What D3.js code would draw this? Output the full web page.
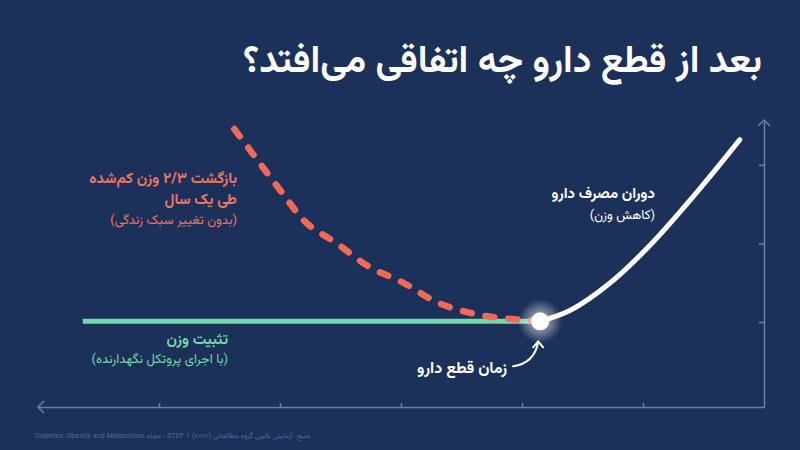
<!DOCTYPE html>
<html lang="fa">
<head>
<meta charset="utf-8">
<script src="https://cdn.jsdelivr.net/npm/d3@7"></script>
<style>
  html, body { margin: 0; padding: 0; background: #1b3159; }
  svg { display: block; }
  text { font-family: Vazirmatn, "DejaVu Sans", sans-serif; }
</style>
</head>
<body>
<svg id="chart" width="800" height="450"></svg>
<script>
// ---- data (time runs right-to-left; t = 0 at the vertical axis) ----
const titleText = "بعد از قطع دارو چه اتفاقی می‌افتد؟";
const sourceText = "\u202Bمنبع: آزمایش بالینی گروه مطالعاتی STEP 1 (۲۰۲۲) ؛ مجله Diabetes, Obesity and Metabolism\u202C";

const xTicks = [1, 2, 3, 4, 5];
const yTicks = [1, 2, 3];

// drug-use period (weight loss), white line
const drugT = [0.20, 0.55, 0.94, 1.27, 1.60, 1.85];
const drugY = [3.32, 2.66, 1.98, 1.50, 1.15, 1.01];

// regain without lifestyle change, red dashed
const regainT = [1.85, 2.16, 2.41, 2.70, 2.98, 3.26, 3.53, 3.78, 4.00, 4.22, 4.39];
const regainY = [1.01, 1.05, 1.11, 1.25, 1.50, 1.70, 2.00, 2.26, 2.68, 3.13, 3.48];

// maintenance protocol, green flat line
const keepT = [1.85, 5.63];
const keepY = [1.01, 1.01];

// discontinuation point
const stopT = 1.85, stopY = 1.01;

const labelRegain = ["بازگشت ۲/۳ وزن کم‌شده", "طی یک سال", "(بدون تغییر سبک زندگی)"];
const labelKeep = ["تثبیت وزن", "(با اجرای پروتکل نگهدارنده)"];
const labelDrug = ["دوران مصرف دارو", "(کاهش وزن)"];
const labelStop = "زمان قطع دارو";

// ---- colours ----
const C = {
  bg: "#1b3159", axis: "#6880aa", white: "#ffffff",
  red: "#f2695a", redText: "#f07466", green: "#74d9a9", greenText: "#74d9a9",
  source: "#52698f"
};

const svg = d3.select("#chart");
svg.append("rect").attr("width", 800).attr("height", 450).attr("fill", C.bg);

const x = d3.scaleLinear().domain([0, 6]).range([764, 38]);
const y = d3.scaleLinear().domain([-0.08, 3.57]).range([407, 120]);

// ---- axes ----
const gx = svg.append("g").attr("transform", `translate(0,${y(-0.08)})`)
  .call(d3.axisBottom(x).tickValues(xTicks).tickSize(-4).tickSizeOuter(0).tickFormat(""));
const gy = svg.append("g").attr("transform", `translate(${x(0)},0)`)
  .call(d3.axisRight(y).tickValues(yTicks).tickSize(-5).tickSizeOuter(0).tickFormat(""));
[gx, gy].forEach(g => {
  g.selectAll("path.domain").attr("stroke", C.axis).attr("stroke-width", 1.5);
  g.selectAll(".tick line").attr("stroke", C.axis).attr("stroke-width", 1.5);
});
// arrowheads
const x0 = x(6), yb = y(-0.08), xr = x(0), yt = y(3.57);
svg.append("path").attr("d", `M${x0 + 6},${yb - 6}L${x0},${yb}L${x0 + 6},${yb + 6}`)
  .attr("fill", "none").attr("stroke", C.axis).attr("stroke-width", 1.5);
svg.append("path").attr("d", `M${xr - 6},${yt + 6}L${xr},${yt}L${xr + 6},${yt + 6}`)
  .attr("fill", "none").attr("stroke", C.axis).attr("stroke-width", 1.5);

// ---- title ----
svg.append("text").attr("x", 762).attr("y", 72).attr("text-anchor", "end")
  .attr("fill", C.white).attr("font-size", 37.5).attr("font-weight", "bold").text(titleText);

// ---- lines ----
const line = d3.line().x(d => x(d[0])).y(d => y(d[1])).curve(d3.curveCatmullRom.alpha(0.5));

svg.append("path").datum(d3.zip(keepT, keepY)).attr("d", line)
  .attr("fill", "none").attr("stroke", C.green).attr("stroke-width", 5);

svg.append("path").datum(d3.zip(regainT, regainY)).attr("d", line)
  .attr("fill", "none").attr("stroke", C.red).attr("stroke-width", 6.5)
  .attr("stroke-linecap", "round").attr("stroke-dasharray", "9 14");

svg.append("path").datum(d3.zip(drugT, drugY)).attr("d", line)
  .attr("fill", "none").attr("stroke", C.white).attr("stroke-width", 5)
  .attr("stroke-linecap", "round");

// ---- glowing point ----
const defs = svg.append("defs");
const rg = defs.append("radialGradient").attr("id", "glow");
rg.append("stop").attr("offset", "0%").attr("stop-color", "#fff").attr("stop-opacity", 0.9);
rg.append("stop").attr("offset", "40%").attr("stop-color", "#fff").attr("stop-opacity", 0.45);
rg.append("stop").attr("offset", "100%").attr("stop-color", "#fff").attr("stop-opacity", 0);
const px = x(stopT), py = y(stopY);
svg.append("circle").attr("cx", px).attr("cy", py).attr("r", 22).attr("fill", "url(#glow)");
svg.append("circle").attr("cx", px).attr("cy", py).attr("r", 9).attr("fill", C.white);

// ---- annotation arrow ----
svg.append("path")
  .attr("d", `M${px - 27},${py + 45} Q${px - 6},${py + 42} ${px - 2},${py + 21}`)
  .attr("fill", "none").attr("stroke", C.white).attr("stroke-width", 2).attr("stroke-linecap", "round");
svg.append("path")
  .attr("d", `M${px - 7},${py + 26} L${px - 2},${py + 20} L${px + 3},${py + 26}`)
  .attr("fill", "none").attr("stroke", C.white).attr("stroke-width", 2)
  .attr("stroke-linecap", "round").attr("stroke-linejoin", "round");

// ---- labels (one text element per label block, lines as tspans) ----
function label(lines, xPos, yPos, sizes, weights, color) {
  const t = svg.append("text").attr("text-anchor", "end").attr("fill", color);
  lines.forEach((s, i) => {
    t.append("tspan").attr("x", xPos).attr("y", yPos[i])
      .attr("font-size", sizes[i]).attr("font-weight", weights[i]).text(s);
  });
}
label(labelRegain, 237, [183, 204, 224], [15, 15, 13], ["bold", "bold", "normal"], C.redText);
label(labelKeep, 228, [344, 363], [15, 13], ["bold", "normal"], C.greenText);
label(labelDrug, 655, [198, 219], [15, 13], ["bold", "normal"], C.white);
label([labelStop], 507, [373], [16], ["bold"], C.white);

// ---- source ----
svg.append("text").attr("x", 310).attr("y", 438).attr("text-anchor", "end")
  .attr("fill", C.source).attr("font-size", 7.2).text(sourceText);
</script>
</body>
</html>
